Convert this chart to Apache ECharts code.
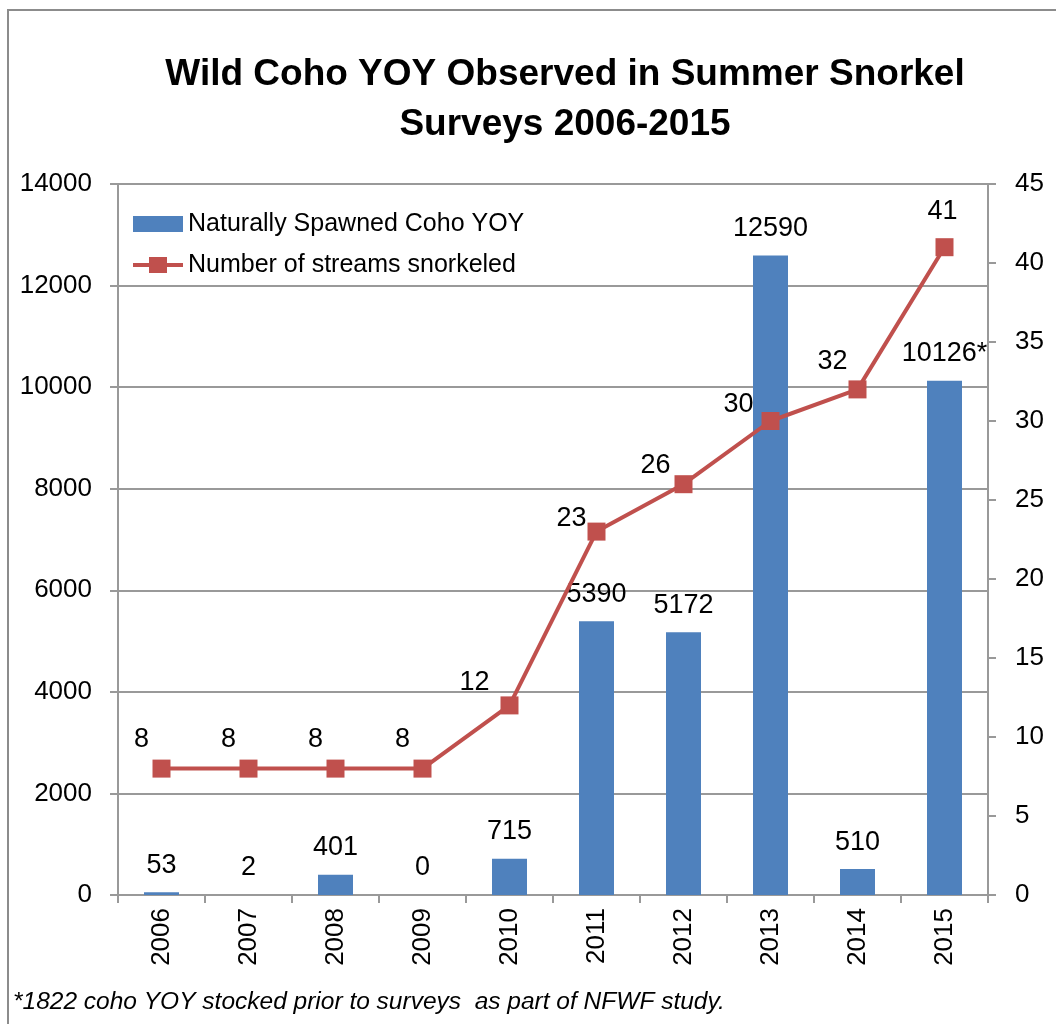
<!DOCTYPE html>
<html>
<head>
<meta charset="utf-8">
<title>Wild Coho YOY Observed in Summer Snorkel Surveys 2006-2015</title>
<script src="https://cdn.jsdelivr.net/npm/echarts@6/dist/echarts.min.js"></script>
<style>
    html, body { margin: 0; padding: 0; background: #fff; }
    #chart { width: 1056px; height: 1024px; }
</style>
</head>
<body>
<div id="chart"></div>
<script>
// Данные
const years = ['2006', '2007', '2008', '2009', '2010', '2011', '2012', '2013', '2014', '2015'];
const cohoYoy = [53, 2, 401, 0, 715, 5390, 5172, 12590, 510, 10126];
const cohoNotes = ['', '', '', '', '', '', '', '', '', '*'];
const streamsSnorkeled = [8, 8, 8, 8, 12, 23, 26, 30, 32, 41];

// Стили
const FONT = '"Liberation Sans", Arial, sans-serif';
const BAR_COLOR = '#4F81BD';
const LINE_COLOR = '#C0504D';
const GRID_COLOR = '#999999';
// смещения подписей линии относительно точки (как в исходнике Excel)
const lineLabelOffsets = [
    [-20, -29], [-20, -29], [-20, -29], [-20, -29],
    [-35, -23], [-25, -13], [-28, -19], [-32, -16], [-25, -28], [-2, -36]
];
// значок легенды: толстая линия с квадратом посередине
const LINE_LEGEND_ICON = 'path://M0,6 L16,6 L16,0 L34,0 L34,6 L50,6 L50,10 L34,10 L34,16 L16,16 L16,10 L0,10 Z';

const chart = echarts.init(document.getElementById('chart'));

const option = {
    backgroundColor: '#fff',
    animation: false,
    textStyle: { fontFamily: FONT, color: '#000' },
    title: {
        text: '*1822 coho YOY stocked prior to surveys  as part of NFWF study.',
        left: 13,
        top: 990,
        padding: 0,
        textStyle: {
            fontFamily: FONT,
            fontSize: 24.5,
            fontStyle: 'italic',
            fontWeight: 'normal',
            color: '#000'
        }
    },
    graphic: [
        {
            type: 'rect',
            shape: { x: 8, y: 10, width: 1070, height: 1040 },
            style: { fill: 'none', stroke: '#8c8c8c', lineWidth: 2 },
            silent: true,
            z: -1
        },
        {
            type: 'text',
            x: 565,
            y: 100,
            silent: true,
            style: {
                text: 'Wild Coho YOY Observed in Summer Snorkel\nSurveys 2006-2015',
                align: 'center',
                verticalAlign: 'middle',
                font: 'bold 37px ' + FONT,
                lineHeight: 50,
                fill: '#000'
            }
        }
    ],
    legend: {
        orient: 'vertical',
        left: 128,
        top: 206,
        itemWidth: 50,
        itemHeight: 16,
        itemGap: 15,
        textStyle: { fontFamily: FONT, fontSize: 25, lineHeight: 26, color: '#000' },
        data: [
            { name: 'Naturally Spawned Coho YOY', icon: 'rect' },
            { name: 'Number of streams snorkeled', icon: LINE_LEGEND_ICON }
        ]
    },
    grid: {
        left: 118,
        right: 68,
        top: 184,
        bottom: 129,
        containLabel: false
    },
    xAxis: {
        type: 'category',
        data: years,
        boundaryGap: true,
        axisLine: { lineStyle: { color: GRID_COLOR, width: 2 } },
        axisTick: { show: true, alignWithLabel: false, length: 8, lineStyle: { color: GRID_COLOR, width: 2 } },
        axisLabel: {
            rotate: 90,
            margin: 13,
            fontFamily: FONT,
            fontSize: 26,
            color: '#000'
        }
    },
    yAxis: [
        {
            type: 'value',
            min: 0,
            max: 14000,
            interval: 2000,
            axisLine: { show: true, lineStyle: { color: GRID_COLOR, width: 2 } },
            axisTick: { show: true, length: 8, lineStyle: { color: GRID_COLOR, width: 2 } },
            axisLabel: {
                margin: 26,
                fontFamily: FONT,
                fontSize: 26,
                color: '#000',
                formatter: (v) => String(v)
            },
            splitLine: { show: true, lineStyle: { color: GRID_COLOR, width: 2 } }
        },
        {
            type: 'value',
            min: 0,
            max: 45,
            interval: 5,
            position: 'right',
            axisLine: { show: true, lineStyle: { color: GRID_COLOR, width: 2 } },
            axisTick: { show: true, length: 8, lineStyle: { color: GRID_COLOR, width: 2 } },
            axisLabel: { margin: 27, fontFamily: FONT, fontSize: 26, color: '#000' },
            splitLine: { show: false }
        }
    ],
    series: [
        {
            name: 'Naturally Spawned Coho YOY',
            type: 'bar',
            yAxisIndex: 0,
            barWidth: 35,
            itemStyle: { color: BAR_COLOR },
            label: {
                show: true,
                position: 'top',
                distance: 13,
                fontFamily: FONT,
                fontSize: 27,
                lineHeight: 28,
                color: '#000',
                formatter: (p) => p.value + cohoNotes[p.dataIndex]
            },
            data: cohoYoy
        },
        {
            name: 'Number of streams snorkeled',
            type: 'line',
            yAxisIndex: 1,
            symbol: 'rect',
            symbolSize: 18,
            lineStyle: { color: LINE_COLOR, width: 4 },
            itemStyle: { color: LINE_COLOR },
            z: 5,
            data: streamsSnorkeled.map((v, i) => ({
                value: v,
                label: {
                    show: true,
                    position: 'inside',
                    offset: lineLabelOffsets[i],
                    fontFamily: FONT,
                    fontSize: 27,
                    color: '#000'
                }
            }))
        }
    ]
};

chart.setOption(option);
</script>
</body>
</html>
